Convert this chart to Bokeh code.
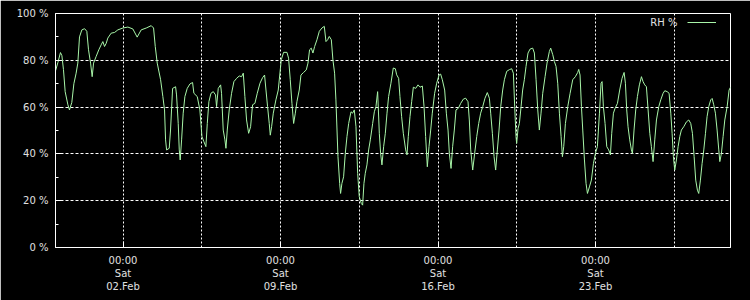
import pandas as pd
from bokeh.plotting import figure
from bokeh.models import Range1d, FixedTicker, Legend, LegendItem, Label
from bokeh.embed import file_html
from bokeh.resources import INLINE

# ---- data: relative humidity, hours since 2019-01-30 00:00 ----
start = pd.Timestamp("2019-01-30 00:00")
end = pd.Timestamp("2019-03-01 00:00")

hours_w1 = [0.0, 2.5, 5.3, 6.8, 8.5, 10.3, 13.2, 14.9, 17.4, 19.6, 22.0, 23.8, 25.6, 28.1, 31.0,
            33.4, 35.2, 37.4, 39.1, 40.6, 43.4, 46.2, 48.7, 50.5, 52.3, 54.1, 55.8, 59.4, 63.0,
            66.5, 71.9, 77.2, 82.5, 87.1, 91.4, 96.8, 102.1, 104.6, 106.4, 108.5, 112.1, 114.5,
            116.3, 117.4, 118.5]
rh_w1 = [75.5, 79, 83.3, 82, 76, 66.6, 61, 58.8, 62, 70, 74.5, 78.8, 90, 93, 93.5,
         92.4, 84.5, 78.8, 73, 78.8, 81.7, 84.5, 86.6, 88, 85.9, 87.3, 89.5, 91.6, 91.9,
         93, 93.8, 94.2, 93.4, 89.9, 93, 93.8, 94.8, 93.8, 85.9, 78.8, 71.7, 64.5,
         58.8, 46, 41.7]

hours_w2 = [121.3, 122.7, 124.9, 128.1, 129.1, 130.9, 132.0, 133.0, 134.5, 136.2, 138.0, 140.5,
            143.4, 146.2, 147.6, 151.2, 154.0, 156.2, 158.3, 160.4, 161.9, 163.6, 165.8, 168.3,
            170.7, 171.8, 173.6, 176.1, 177.1, 178.9, 180.7, 181.8, 183.2, 185.3, 187.8, 190.3,
            193.2, 196.0, 198.5, 200.3, 202.0, 203.8, 206.0, 208.1, 210.2, 212.7, 215.2, 218.1,
            220.9, 223.0, 224.5, 226.2, 228.0, 229.1, 230.5, 232.3, 235.1, 237.6]
rh_w2 = [42.4, 50.2, 68, 68.7, 65.2, 53, 41.7, 37.4, 46, 57.4, 64.5, 68,
         69.9, 70.5, 65.9, 64.5, 58.8, 47.4, 45.2, 43.1, 53, 62.3, 65.9, 66.6,
         65.2, 60.2, 68, 69.5, 65.9, 50.2, 46, 42.4, 50.2, 58.8, 65.9, 70.9,
         72.3, 73.3, 73, 74.5, 64.5, 54.5, 48.8, 51.6, 61, 61.6, 65.9, 70.2,
         72.6, 73.7, 67.3, 60.2, 53, 48, 51.6, 57.4, 63.1, 67.3]

hours_w3 = [240.8, 243.3, 246.9, 248.6, 250.4, 252.2, 254.0, 255.8, 257.5, 260.0, 261.8, 264.6,
            267.5, 269.3, 271.0, 272.8, 274.6, 276.4, 278.9, 281.4, 284.2, 286.7, 288.5, 290.3,
            292.0, 294.2, 295.9, 297.7, 299.1, 301.3, 303.1, 304.1, 305.5, 307.3, 309.1, 310.9,
            312.7, 315.2, 316.9, 318.7, 320.5, 322.3, 324.0, 326.2, 327.6, 329.0, 330.4, 332.2,
            334.0, 335.8, 338.3, 340.1, 341.8, 343.6, 345.4, 346.8, 348.2, 350.0, 351.8, 353.6,
            355.3, 357.8]
rh_w3 = [80.2, 83.4, 83.4, 80.9, 71.7, 61.6, 53, 57.4, 62.3, 67.3, 73.7, 74.8,
         75.9, 78.8, 84.5, 85.2, 83.1, 85.9, 88.8, 92.4, 93.8, 94.5, 88, 88.8,
         90.2, 88.8, 80.2, 74.5, 63.1, 38.8, 27.4, 23.1, 27.4, 30.2, 40.2, 47.4,
         53, 58, 57.4, 58.8, 51.6, 31.7, 21.7, 18.8, 18.1, 27.4, 31.7, 35.3,
         41.7, 46, 53, 58, 60.2, 66.6, 48.8, 40.2, 35.3, 43.1, 48.8, 57.4,
         64.5, 70.2]

hours_w4 = [360.3, 362.5, 363.9, 366.0, 367.4, 369.2, 371.0, 373.5, 374.9, 376.3, 378.1, 379.9,
            381.7, 384.2, 386.7, 388.8, 391.3, 393.1, 394.8, 396.6, 398.4, 400.2, 401.9, 404.4,
            406.6, 409.1, 410.8, 412.6, 415.1, 416.9, 418.7, 420.1, 421.9, 423.6, 425.4, 427.2,
            429.7, 432.2, 435.0, 437.5, 440.0, 441.4, 442.9, 445.0, 447.1, 449.3, 451.4, 453.5,
            455.7, 458.1, 460.6, 462.8, 464.2, 466.0, 467.8, 469.5, 471.3, 473.1, 474.9, 477.0]
rh_w4 = [76.7, 76.4, 73.8, 72.3, 64.5, 55.9, 48.8, 41.7, 39.6, 47.4, 55.9, 62.3,
         68.5, 68, 69.5, 68.5, 69, 60.2, 47.4, 34.5, 43.1, 50.2, 57.4, 65.9,
         70.2, 73.7, 74.1, 71.7, 67.3, 57.4, 50.2, 40.2, 33.8, 43.1, 50.2, 58.8,
         59.5, 61.6, 63.4, 63.8, 62.3, 54.5, 41.7, 33.1, 40.2, 47.4, 53, 57.4,
         60.2, 63.8, 66.2, 63.8, 57.4, 48.8, 38.8, 33.1, 41.7, 50.2, 60.2, 67.3]

hours_w5 = [478.8, 481.3, 484.1, 486.6, 488.4, 489.8, 491.2, 491.9, 493.4, 494.8, 496.6, 498.3,
            500.1, 501.9, 504.0, 506.2, 509.0, 510.8, 512.6, 514.4, 516.1, 517.9, 519.7, 522.2,
            524.3, 526.8, 528.2, 530.4, 532.1, 533.9, 535.7, 537.5, 539.3, 540.7, 542.1, 543.9,
            546.4, 548.9, 551.7, 554.5, 557.0, 558.1, 559.5, 561.0, 562.4, 564.2, 565.9, 567.4,
            569.5, 571.6, 573.8, 575.9, 578.0, 580.2, 581.9, 583.0, 584.4, 586.2, 588.0, 590.1,
            591.9, 593.3, 595.1, 596.9]
rh_w5 = [71.7, 75.3, 76, 76.4, 74.5, 60.2, 47.4, 44.5, 50.9, 53, 60.2, 67.3,
         71.7, 77.4, 83.1, 84.8, 85.2, 83.1, 71.7, 58.8, 50.2, 57.4, 65.9, 73,
         78.8, 83.8, 85.2, 82.4, 79.5, 77.4, 70.2, 57.4, 47.4, 38.8, 43.1, 53,
         60.2, 65.9, 71.7, 73, 74.8, 76.1, 73.7, 60.2, 50.2, 37.4, 27.4, 23.1,
         25.9, 28.8, 35.9, 40.2, 43.1, 57.4, 70.2, 70.9, 60.2, 53, 43.1, 41.7,
         39.6, 48.8, 57.4, 59.5]

hours_w6 = [599.4, 601.8, 604.3, 606.5, 607.9, 609.3, 610.7, 612.5, 614.3, 615.4, 617.1, 618.9,
            620.7, 622.8, 625.0, 626.7, 628.5, 630.3, 632.1, 633.9, 635.6, 637.4, 639.2, 641.0,
            643.5, 645.6, 648.1, 649.9, 652.4, 654.5, 656.3, 657.7, 659.1, 660.5, 662.3, 664.1,
            665.9, 667.6, 670.1, 673.0, 675.5, 677.6, 679.4, 681.2, 682.9, 684.7, 686.1, 687.9,
            689.7, 691.5, 693.3, 695.0, 696.8, 698.9, 700.4, 702.1, 703.9, 705.7, 707.5, 708.6,
            710.3, 712.1, 713.9, 716.4, 718.5, 720.0]
rh_w6 = [61.6, 67.3, 72.3, 74.8, 70.2, 58.8, 51.6, 46, 41.7, 40.2, 50.2, 58.8,
         64.5, 69.5, 73, 70.9, 69.5, 68.7, 58.8, 48.8, 43.1, 36.7, 46, 54.5,
         60.2, 63.1, 65.9, 67, 66.6, 65.9, 57.4, 48.8, 38.8, 33.1, 37.4, 43.1,
         47.4, 50.2, 51.6, 53.7, 54.5, 53, 48.8, 38.8, 28.8, 24.5, 23.1, 28.8,
         35.9, 41.7, 48.8, 55.9, 60.2, 63.1, 63.7, 61, 57.4, 50.2, 41.7, 36.7,
         40.2, 47.4, 54.5, 60.2, 67.3, 68.5]

y_ticks = [0, 20, 40, 60, 80, 100]
y_labels = ["0 %", "20 %", "40 %", "60 %", "80 %", "100 %"]
y_minor = [10, 30, 50, 70, 90]
x_tick_dates = ["2019-02-02", "2019-02-09", "2019-02-16", "2019-02-23"]
x_tick_labels = ["00:00\nSat\n02.Feb", "00:00\nSat\n09.Feb", "00:00\nSat\n16.Feb", "00:00\nSat\n23.Feb"]
x_grid_dates = ["2019-02-02 00:00", "2019-02-05 12:00", "2019-02-09 00:00", "2019-02-12 12:00",
                "2019-02-16 00:00", "2019-02-19 12:00", "2019-02-23 00:00", "2019-02-26 12:00"]
series_label = "RH %"

hours = hours_w1 + hours_w2 + hours_w3 + hours_w4 + hours_w5 + hours_w6
rh = rh_w1 + rh_w2 + rh_w3 + rh_w4 + rh_w5 + rh_w6


def ms(ts):
    return pd.Timestamp(ts).value / 1e6


times = [ms(start) + h * 3600000.0 for h in hours]

TEXT = "#e0e0e0"
FONT = "DejaVu Sans"

p = figure(width=750, height=300, x_axis_type="datetime", output_backend="svg",
           toolbar_location=None, title=None,
           x_range=Range1d(ms(start), ms(end)), y_range=Range1d(0, 100),
           background_fill_color="black", border_fill_color="black",
           min_border_left=55, min_border_right=20, min_border_top=13, min_border_bottom=53)

r = p.line(times, rh, line_color="#a8f5a8", line_width=1)

p.outline_line_color = "white"
p.outline_line_alpha = 1.0
p.outline_line_width = 1

for ax in (p.xaxis[0], p.yaxis[0]):
    ax.axis_line_color = "white"
    ax.major_tick_line_color = "white"
    ax.major_tick_in = 6
    ax.major_tick_out = 0
    ax.minor_tick_line_color = "white"
    ax.minor_tick_in = 3
    ax.minor_tick_out = 0
    ax.major_label_text_color = TEXT
    ax.major_label_text_font = FONT
    ax.major_label_text_font_size = "10px"

p.yaxis.ticker = FixedTicker(ticks=y_ticks, minor_ticks=y_minor)
p.yaxis.major_label_overrides = {t: l for t, l in zip(y_ticks, y_labels)}
p.yaxis.major_label_standoff = 7

x_ticks = [ms(d) for d in x_tick_dates]
p.xaxis.ticker = FixedTicker(ticks=x_ticks, minor_ticks=[])
p.xaxis.major_label_overrides = {t: l for t, l in zip(x_ticks, x_tick_labels)}
p.xaxis.major_label_standoff = 7

p.xgrid.ticker = FixedTicker(ticks=[ms(d) for d in x_grid_dates])
p.xgrid.grid_line_color = "white"
p.xgrid.grid_line_dash = "2 2"
p.ygrid.ticker = FixedTicker(ticks=y_ticks)
p.ygrid.grid_line_color = "white"
p.ygrid.grid_line_dash = "3 2"

legend = Legend(items=[LegendItem(label=" ", renderers=[r])], location=(632, 220),
                padding=0, margin=0, spacing=0, glyph_width=29, glyph_height=10,
                label_height=10, label_standoff=0, label_text_font_size="10px",
                background_fill_alpha=0, border_line_alpha=0)
p.add_layout(legend)
p.add_layout(Label(x=622, y=225, x_units="screen", y_units="screen", text=series_label,
                   text_align="right", text_baseline="middle", text_font=FONT,
                   text_font_size="10px", text_color=TEXT))

open("out.html", "w").write(file_html(p, INLINE))
